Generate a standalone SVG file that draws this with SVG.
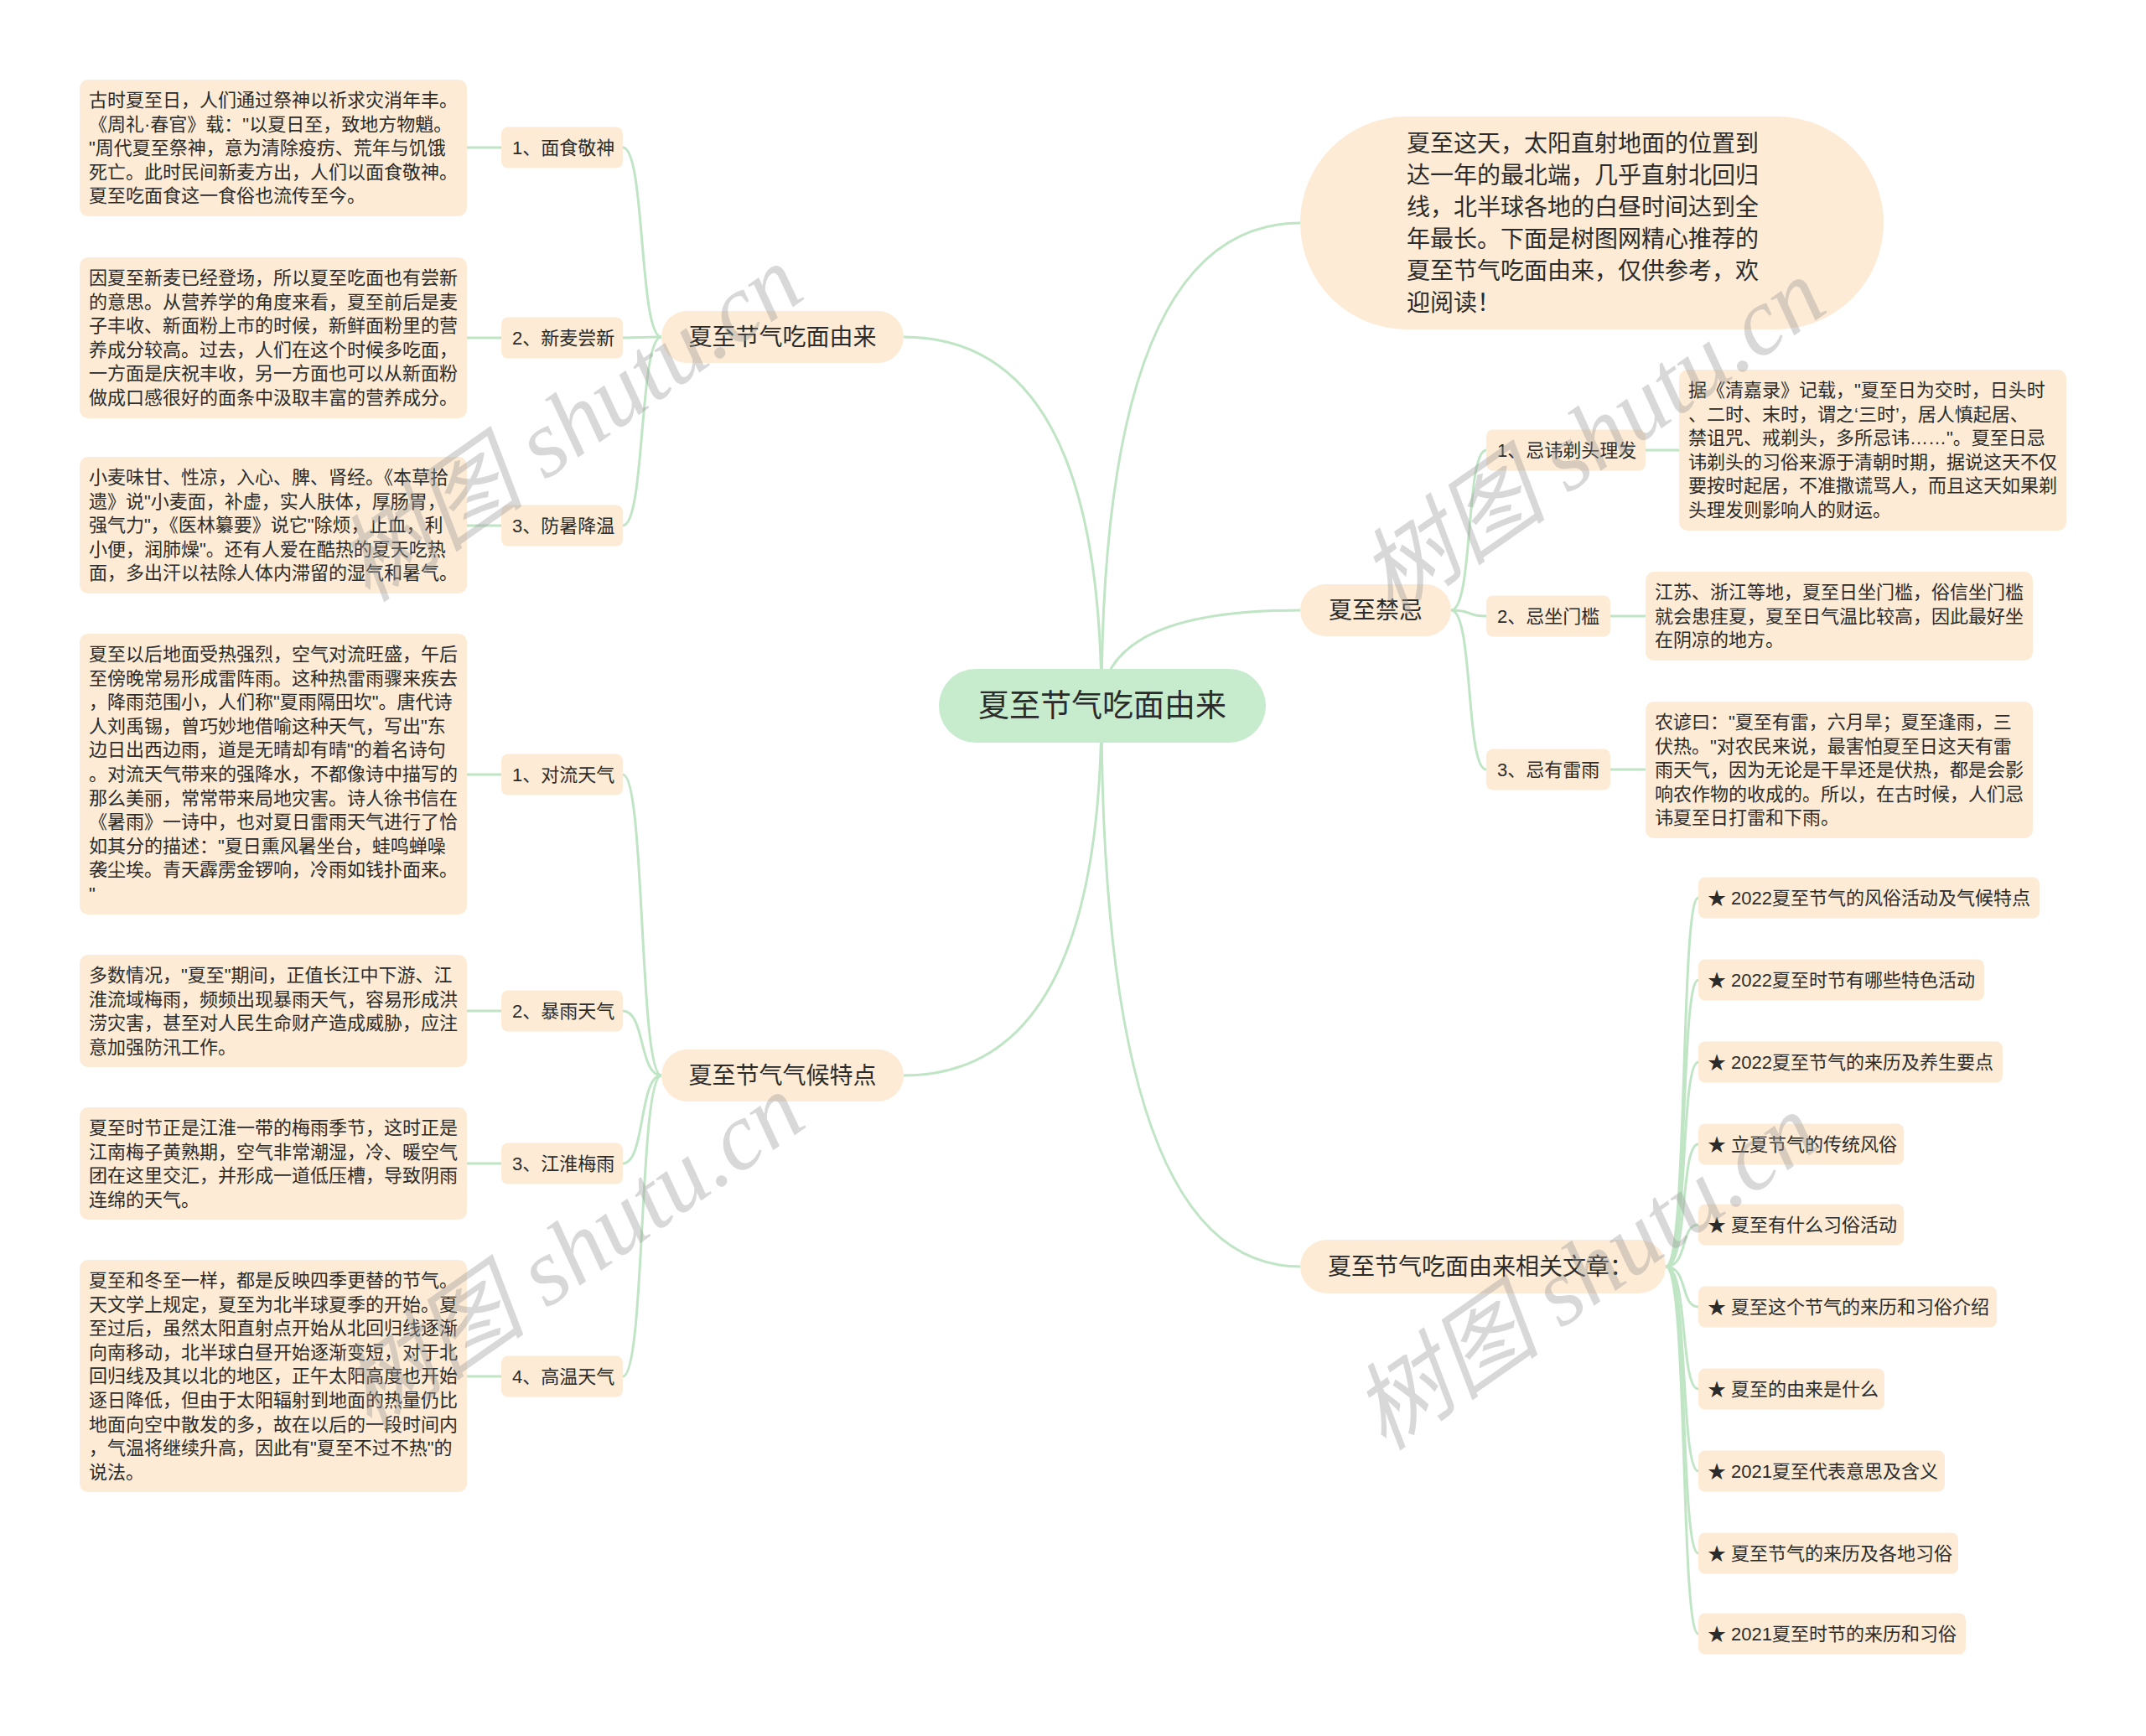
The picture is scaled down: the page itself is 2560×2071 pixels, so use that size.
<svg xmlns="http://www.w3.org/2000/svg" width="2560" height="2071" viewBox="0 0 2560 2071">
<style>
.bg{fill:#ffffff}
.nd{fill:#fdebd5}
.ct{fill:#c6ebcd}
.tx{font-family:"Liberation Sans","Noto Sans CJK SC",sans-serif;fill:#2b2b2b}
.s22{font-size:22px}
.s28{font-size:28px}
.s37{font-size:37px}
.ln{fill:none;stroke:#bfe5c5;stroke-width:3}
.wm{font-family:"Liberation Serif","Noto Sans CJK SC",serif;font-style:italic;font-size:114px;fill:#9a9a9a;opacity:0.38}
</style>
<rect class="bg" x="0" y="0" width="2560" height="2071"/>

<g id="connectors">
<path class="ln" d="M1314 842 Q1314 402 1078 402"/>
<path class="ln" d="M1314 842 Q1314 1283 1078 1283"/>
<path class="ln" d="M1314 842 Q1314 266 1551 266"/>
<path class="ln" d="M1314 842 Q1314 728 1551 728"/>
<path class="ln" d="M1314 842 Q1314 1511 1551 1511"/>
<path class="ln" d="M789 402 C762 402 770 176 743 176"/>
<path class="ln" d="M789 402 C762 402 770 403 743 403"/>
<path class="ln" d="M789 402 C762 402 770 627 743 627"/>
<path class="ln" d="M789 1283 C762 1283 770 924 743 924"/>
<path class="ln" d="M789 1283 C762 1283 770 1206 743 1206"/>
<path class="ln" d="M789 1283 C762 1283 770 1388 743 1388"/>
<path class="ln" d="M789 1283 C762 1283 770 1642 743 1642"/>
<path class="ln" d="M557 176 L598 176"/>
<path class="ln" d="M557 403 L598 403"/>
<path class="ln" d="M557 627 L598 627"/>
<path class="ln" d="M557 924 L598 924"/>
<path class="ln" d="M557 1206 L598 1206"/>
<path class="ln" d="M557 1388 L598 1388"/>
<path class="ln" d="M557 1642 L598 1642"/>
<path class="ln" d="M1731 728 C1758 728 1748 537 1773 537"/>
<path class="ln" d="M1731 728 C1758 728 1748 735 1773 735"/>
<path class="ln" d="M1731 728 C1758 728 1748 918 1773 918"/>
<path class="ln" d="M1963 537 L2003 537"/>
<path class="ln" d="M1921 735 L1963 735"/>
<path class="ln" d="M1921 918 L1963 918"/>
<path class="ln" d="M1987 1511 C2014 1511 2004 1071 2026 1071"/>
<path class="ln" d="M1987 1511 C2014 1511 2004 1169 2026 1169"/>
<path class="ln" d="M1987 1511 C2014 1511 2004 1267 2026 1267"/>
<path class="ln" d="M1987 1511 C2014 1511 2004 1365 2026 1365"/>
<path class="ln" d="M1987 1511 C2014 1511 2004 1461 2026 1461"/>
<path class="ln" d="M1987 1511 C2014 1511 2004 1559 2026 1559"/>
<path class="ln" d="M1987 1511 C2014 1511 2004 1657 2026 1657"/>
<path class="ln" d="M1987 1511 C2014 1511 2004 1755 2026 1755"/>
<path class="ln" d="M1987 1511 C2014 1511 2004 1853 2026 1853"/>
<path class="ln" d="M1987 1511 C2014 1511 2004 1949 2026 1949"/>
</g>

<g id="center">
<rect class="ct" x="1120" y="798" width="390" height="88" rx="44"/>
<text class="tx s37" x="1315" y="855" text-anchor="middle">夏至节气吃面由来</text>
</g>

<g id="intro">
<rect class="nd" x="1551" y="139" width="696" height="254" rx="127"/>
<text class="tx s28" x="1678" y="181">夏至这天，太阳直射地面的位置到<tspan x="1678" dy="38">达一年的最北端，几乎直射北回归</tspan><tspan x="1678" dy="38">线，北半球各地的白昼时间达到全</tspan><tspan x="1678" dy="38">年最长。下面是树图网精心推荐的</tspan><tspan x="1678" dy="38">夏至节气吃面由来，仅供参考，欢</tspan><tspan x="1678" dy="38">迎阅读！</tspan></text>
</g>

<g id="branch-origin">
<rect class="nd" x="789" y="371" width="289" height="62" rx="31"/>
<text class="tx s28" x="933.5" y="412" text-anchor="middle">夏至节气吃面由来</text>
</g>
<g id="branch-climate">
<rect class="nd" x="789" y="1252" width="289" height="62" rx="31"/>
<text class="tx s28" x="933.5" y="1293" text-anchor="middle">夏至节气气候特点</text>
</g>
<g id="branch-taboo">
<rect class="nd" x="1551" y="697" width="180" height="62" rx="31"/>
<text class="tx s28" x="1641" y="738" text-anchor="middle">夏至禁忌</text>
</g>
<g id="branch-articles">
<rect class="nd" x="1551" y="1479" width="436" height="64" rx="32"/>
<text class="tx s28" x="1584" y="1521">夏至节气吃面由来相关文章：</text>
</g>

<g id="a1"><rect class="nd" x="598" y="151.5" width="145" height="49" rx="8"/><text class="tx s22" x="611" y="184">1、面食敬神</text></g>
<g id="a2"><rect class="nd" x="598" y="378.5" width="145" height="49" rx="8"/><text class="tx s22" x="611" y="411">2、新麦尝新</text></g>
<g id="a3"><rect class="nd" x="598" y="602.5" width="145" height="49" rx="8"/><text class="tx s22" x="611" y="635">3、防暑降温</text></g>
<g id="b1"><rect class="nd" x="598" y="899.5" width="145" height="49" rx="8"/><text class="tx s22" x="611" y="932">1、对流天气</text></g>
<g id="b2"><rect class="nd" x="598" y="1181.5" width="145" height="49" rx="8"/><text class="tx s22" x="611" y="1214">2、暴雨天气</text></g>
<g id="b3"><rect class="nd" x="598" y="1363.5" width="145" height="49" rx="8"/><text class="tx s22" x="611" y="1396">3、江淮梅雨</text></g>
<g id="b4"><rect class="nd" x="598" y="1617.5" width="145" height="49" rx="8"/><text class="tx s22" x="611" y="1650">4、高温天气</text></g>

<g id="a1-leaf"><rect class="nd" x="95" y="95" width="462" height="163" rx="10"/>
<text class="tx s22" x="106" y="127">古时夏至日，人们通过祭神以祈求灾消年丰。<tspan x="106" dy="28.6">《周礼·春官》载："以夏日至，致地方物魈。</tspan><tspan x="106" dy="28.6">"周代夏至祭神，意为清除疫疠、荒年与饥饿</tspan><tspan x="106" dy="28.6">死亡。此时民间新麦方出，人们以面食敬神。</tspan><tspan x="106" dy="28.6">夏至吃面食这一食俗也流传至今。</tspan></text></g>

<g id="a2-leaf"><rect class="nd" x="95" y="307" width="462" height="192" rx="10"/>
<text class="tx s22" x="106" y="339">因夏至新麦已经登场，所以夏至吃面也有尝新<tspan x="106" dy="28.6">的意思。从营养学的角度来看，夏至前后是麦</tspan><tspan x="106" dy="28.6">子丰收、新面粉上市的时候，新鲜面粉里的营</tspan><tspan x="106" dy="28.6">养成分较高。过去，人们在这个时候多吃面，</tspan><tspan x="106" dy="28.6">一方面是庆祝丰收，另一方面也可以从新面粉</tspan><tspan x="106" dy="28.6">做成口感很好的面条中汲取丰富的营养成分。</tspan></text></g>

<g id="a3-leaf"><rect class="nd" x="95" y="545" width="462" height="163" rx="10"/>
<text class="tx s22" x="106" y="577">小麦味甘、性凉，入心、脾、肾经。《本草拾<tspan x="106" dy="28.6">遗》说"小麦面，补虚，实人肤体，厚肠胃，</tspan><tspan x="106" dy="28.6">强气力"，《医林纂要》说它"除烦，止血，利</tspan><tspan x="106" dy="28.6">小便，润肺燥"。还有人爱在酷热的夏天吃热</tspan><tspan x="106" dy="28.6">面，多出汗以祛除人体内滞留的湿气和暑气。</tspan></text></g>

<g id="b1-leaf"><rect class="nd" x="95" y="756" width="462" height="335" rx="10"/>
<text class="tx s22" x="106" y="788">夏至以后地面受热强烈，空气对流旺盛，午后<tspan x="106" dy="28.6">至傍晚常易形成雷阵雨。这种热雷雨骤来疾去</tspan><tspan x="106" dy="28.6">，降雨范围小，人们称"夏雨隔田坎"。唐代诗</tspan><tspan x="106" dy="28.6">人刘禹锡，曾巧妙地借喻这种天气，写出"东</tspan><tspan x="106" dy="28.6">边日出西边雨，道是无晴却有晴"的着名诗句</tspan><tspan x="106" dy="28.6">。对流天气带来的强降水，不都像诗中描写的</tspan><tspan x="106" dy="28.6">那么美丽，常常带来局地灾害。诗人徐书信在</tspan><tspan x="106" dy="28.6">《暑雨》一诗中，也对夏日雷雨天气进行了恰</tspan><tspan x="106" dy="28.6">如其分的描述："夏日熏风暑坐台，蛙鸣蝉噪</tspan><tspan x="106" dy="28.6">袭尘埃。青天霹雳金锣响，冷雨如钱扑面来。</tspan><tspan x="106" dy="28.6">"</tspan></text></g>

<g id="b2-leaf"><rect class="nd" x="95" y="1139" width="462" height="134" rx="10"/>
<text class="tx s22" x="106" y="1171">多数情况，"夏至"期间，正值长江中下游、江<tspan x="106" dy="28.6">淮流域梅雨，频频出现暴雨天气，容易形成洪</tspan><tspan x="106" dy="28.6">涝灾害，甚至对人民生命财产造成威胁，应注</tspan><tspan x="106" dy="28.6">意加强防汛工作。</tspan></text></g>

<g id="b3-leaf"><rect class="nd" x="95" y="1321" width="462" height="134" rx="10"/>
<text class="tx s22" x="106" y="1353">夏至时节正是江淮一带的梅雨季节，这时正是<tspan x="106" dy="28.6">江南梅子黄熟期，空气非常潮湿，冷、暖空气</tspan><tspan x="106" dy="28.6">团在这里交汇，并形成一道低压槽，导致阴雨</tspan><tspan x="106" dy="28.6">连绵的天气。</tspan></text></g>

<g id="b4-leaf"><rect class="nd" x="95" y="1503" width="462" height="277" rx="10"/>
<text class="tx s22" x="106" y="1535">夏至和冬至一样，都是反映四季更替的节气。<tspan x="106" dy="28.6">天文学上规定，夏至为北半球夏季的开始。夏</tspan><tspan x="106" dy="28.6">至过后，虽然太阳直射点开始从北回归线逐渐</tspan><tspan x="106" dy="28.6">向南移动，北半球白昼开始逐渐变短，对于北</tspan><tspan x="106" dy="28.6">回归线及其以北的地区，正午太阳高度也开始</tspan><tspan x="106" dy="28.6">逐日降低，但由于太阳辐射到地面的热量仍比</tspan><tspan x="106" dy="28.6">地面向空中散发的多，故在以后的一段时间内</tspan><tspan x="106" dy="28.6">，气温将继续升高，因此有"夏至不过不热"的</tspan><tspan x="106" dy="28.6">说法。</tspan></text></g>

<g id="j1"><rect class="nd" x="1773" y="512.5" width="190" height="49" rx="8"/><text class="tx s22" x="1786" y="545">1、忌讳剃头理发</text></g>
<g id="j2"><rect class="nd" x="1773" y="710.5" width="148" height="49" rx="8"/><text class="tx s22" x="1786" y="743">2、忌坐门槛</text></g>
<g id="j3"><rect class="nd" x="1773" y="893.5" width="148" height="49" rx="8"/><text class="tx s22" x="1786" y="926">3、忌有雷雨</text></g>

<g id="j1-leaf"><rect class="nd" x="2003" y="441" width="462" height="192" rx="10"/>
<text class="tx s22" x="2014" y="473">据《清嘉录》记载，"夏至日为交时，日头时<tspan x="2014" dy="28.6">、二时、末时，谓之‘三时’，居人慎起居、</tspan><tspan x="2014" dy="28.6">禁诅咒、戒剃头，多所忌讳……"。夏至日忌</tspan><tspan x="2014" dy="28.6">讳剃头的习俗来源于清朝时期，据说这天不仅</tspan><tspan x="2014" dy="28.6">要按时起居，不准撒谎骂人，而且这天如果剃</tspan><tspan x="2014" dy="28.6">头理发则影响人的财运。</tspan></text></g>

<g id="j2-leaf"><rect class="nd" x="1963" y="682" width="462" height="106" rx="10"/>
<text class="tx s22" x="1974" y="714">江苏、浙江等地，夏至日坐门槛，俗信坐门槛<tspan x="1974" dy="28.6">就会患疰夏，夏至日气温比较高，因此最好坐</tspan><tspan x="1974" dy="28.6">在阴凉的地方。</tspan></text></g>

<g id="j3-leaf"><rect class="nd" x="1963" y="837" width="462" height="163" rx="10"/>
<text class="tx s22" x="1974" y="869">农谚曰："夏至有雷，六月旱；夏至逢雨，三<tspan x="1974" dy="28.6">伏热。"对农民来说，最害怕夏至日这天有雷</tspan><tspan x="1974" dy="28.6">雨天气，因为无论是干旱还是伏热，都是会影</tspan><tspan x="1974" dy="28.6">响农作物的收成的。所以，在古时候，人们忌</tspan><tspan x="1974" dy="28.6">讳夏至日打雷和下雨。</tspan></text></g>

<g id="r1"><rect class="nd" x="2026" y="1046.5" width="407" height="49" rx="8"/><text class="tx s22" x="2037" y="1079">★ 2022夏至节气的风俗活动及气候特点</text></g>
<g id="r2"><rect class="nd" x="2026" y="1144.5" width="341" height="49" rx="8"/><text class="tx s22" x="2037" y="1177">★ 2022夏至时节有哪些特色活动</text></g>
<g id="r3"><rect class="nd" x="2026" y="1242.5" width="363" height="49" rx="8"/><text class="tx s22" x="2037" y="1275">★ 2022夏至节气的来历及养生要点</text></g>
<g id="r4"><rect class="nd" x="2026" y="1340.5" width="245" height="49" rx="8"/><text class="tx s22" x="2037" y="1373">★ 立夏节气的传统风俗</text></g>
<g id="r5"><rect class="nd" x="2026" y="1436.5" width="245" height="49" rx="8"/><text class="tx s22" x="2037" y="1469">★ 夏至有什么习俗活动</text></g>
<g id="r6"><rect class="nd" x="2026" y="1534.5" width="356" height="49" rx="8"/><text class="tx s22" x="2037" y="1567">★ 夏至这个节气的来历和习俗介绍</text></g>
<g id="r7"><rect class="nd" x="2026" y="1632.5" width="222" height="49" rx="8"/><text class="tx s22" x="2037" y="1665">★ 夏至的由来是什么</text></g>
<g id="r8"><rect class="nd" x="2026" y="1730.5" width="294" height="49" rx="8"/><text class="tx s22" x="2037" y="1763">★ 2021夏至代表意思及含义</text></g>
<g id="r9"><rect class="nd" x="2026" y="1828.5" width="310" height="49" rx="8"/><text class="tx s22" x="2037" y="1861">★ 夏至节气的来历及各地习俗</text></g>
<g id="r10"><rect class="nd" x="2026" y="1924.5" width="319" height="49" rx="8"/><text class="tx s22" x="2037" y="1957">★ 2021夏至时节的来历和习俗</text></g>

<g id="watermarks">
<text class="wm" x="680" y="544" text-anchor="middle" transform="rotate(-35 680 506)">树图 shutu.cn</text>
<text class="wm" x="682" y="1532" text-anchor="middle" transform="rotate(-35 682 1494)">树图 shutu.cn</text>
<text class="wm" x="1900" y="560" text-anchor="middle" transform="rotate(-35 1900 522)">树图 shutu.cn</text>
<text class="wm" x="1892" y="1556" text-anchor="middle" transform="rotate(-35 1892 1518)">树图 shutu.cn</text>
</g>
</svg>
